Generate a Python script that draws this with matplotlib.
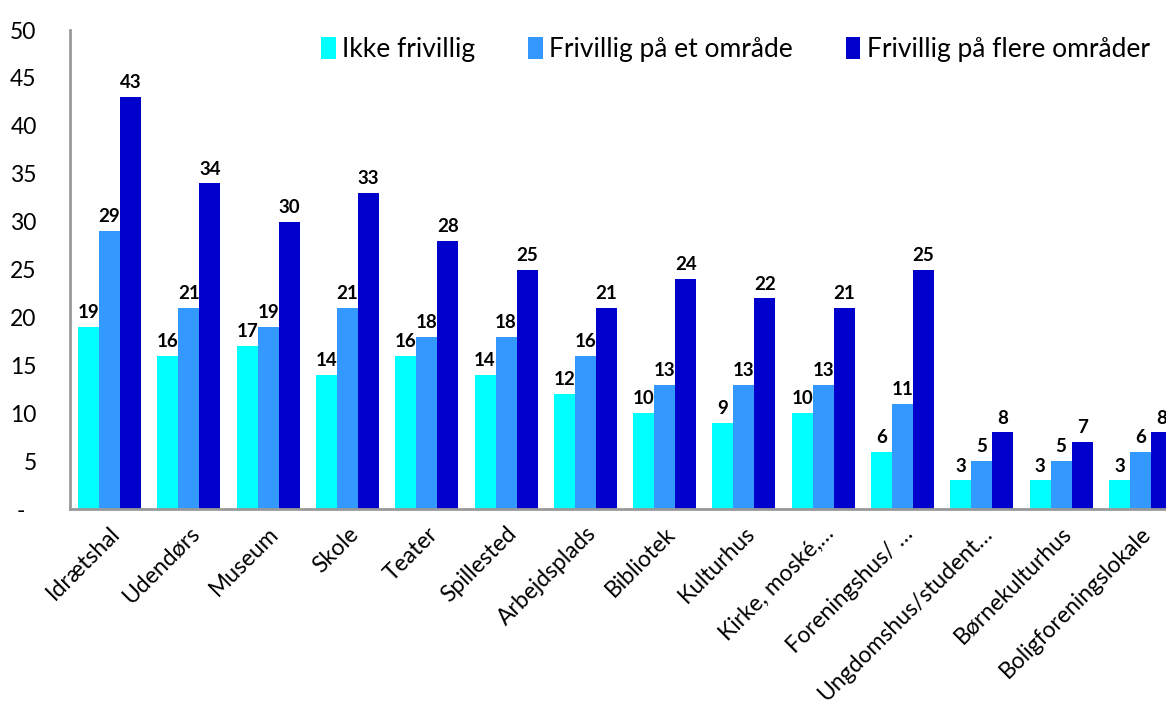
import numpy as np
import matplotlib.pyplot as plt

plt.rcParams['font.family'] = ['Lato', 'DejaVu Sans']

categories = ['Idrætshal', 'Udendørs', 'Museum', 'Skole', 'Teater', 'Spillested',
              'Arbejdsplads', 'Bibliotek', 'Kulturhus', 'Kirke, moské,…',
              'Foreningshus/ …', 'Ungdomshus/student…', 'Børnekulturhus',
              'Boligforeningslokale']
ikke_frivillig = [19, 16, 17, 14, 16, 14, 12, 10, 9, 10, 6, 3, 3, 3]
frivillig_et = [29, 21, 19, 21, 18, 18, 16, 13, 13, 13, 11, 5, 5, 6]
frivillig_flere = [43, 34, 30, 33, 28, 25, 21, 24, 22, 21, 25, 8, 7, 8]
series_names = ['Ikke frivillig', 'Frivillig på et område', 'Frivillig på flere områder']
colors = ['#00FFFF', '#3399FF', '#0000CC']
yticks = [0, 5, 10, 15, 20, 25, 30, 35, 40, 45, 50]
ytick_labels = ['-  ', '5', '10', '15', '20', '25', '30', '35', '40', '45', '50']

fig = plt.figure(figsize=(11.66, 7.07), dpi=100)
ax = fig.add_axes([0.060, 0.280, 0.952, 0.6775])

x = np.arange(len(categories))
w = 0.265
for i, (vals, name, c) in enumerate(zip([ikke_frivillig, frivillig_et, frivillig_flere], series_names, colors)):
    bars = ax.bar(x + (i - 1) * w, vals, w, color=c, label=name)
    for b, v in zip(bars, vals):
        ax.text(b.get_x() + b.get_width() / 2, v + 0.6, str(v), ha='center', va='bottom',
                fontsize=13.5, fontweight='bold', color='black')

ax.set_xlim(-0.5, len(categories) - 0.5)
ax.set_ylim(0, 50)
ax.set_yticks(yticks)
ax.set_yticklabels(ytick_labels, fontsize=16.5)
ax.set_xticks(x)
ax.set_xticklabels(categories, rotation=45, ha='right', rotation_mode='anchor', fontsize=16.5)
ax.tick_params(axis='both', length=0)
ax.tick_params(axis='y', pad=24)
ax.tick_params(axis='x', pad=10)
for s in ['top', 'right']:
    ax.spines[s].set_visible(False)
for s in ['left', 'bottom']:
    ax.spines[s].set_color('#999999')
    ax.spines[s].set_linewidth(2)

ax.legend(loc='upper left', bbox_to_anchor=(0.205, 1.035), ncol=3, frameon=False,
          fontsize=19, handlelength=0.55, handleheight=0.9, handletextpad=0.25,
          columnspacing=2.0)

fig.savefig('out.png', dpi=100)
